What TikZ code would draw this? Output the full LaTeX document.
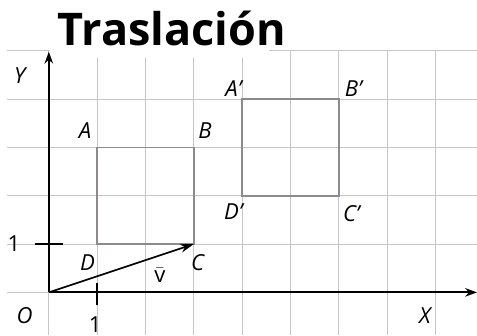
\documentclass[tikz,border=0pt]{standalone}
\usepackage{fontspec}
\setsansfont{Open Sans}
\usepackage{tikz}
\usetikzlibrary{arrows.meta, positioning, calc}
\definecolor{cuadro}{HTML}{8E8893}

\begin{document}
\begin{tikzpicture}[
        gridline/.style={gray!45, line width=0.4pt},
        axis/.style={black, line width=1.1pt, -{Stealth[length=7pt, width=5pt]}},
        lbl/.style={font=\sffamily\itshape\fontsize{13}{15}\selectfont, inner sep=0pt},
        num/.style={font=\sffamily\fontsize{13}{15}\selectfont, inner sep=0pt},
        cuadrado/.style={cuadro, line width=1pt}
    ]
        \useasboundingbox (-1.01,-0.89) rectangle (8.86,6.05);

        % Cuadricula
        \draw[gridline] (-0.87,-0.89) grid (8.86,5);
        \fill[white] (0.02,4.86) rectangle (4.55,6.05);

        % Titulo
        \node[font=\sffamily\bfseries\fontsize{26.5}{30}\selectfont, anchor=base west, inner sep=0pt] (titulo) at (0.18, 5.1) {Traslación};

        % Ejes
        \coordinate (O) at (0,0);
        \coordinate (ejeX) at (8.86,0);
        \coordinate (ejeY) at (0,4.98);
        \draw[axis] (O) -- (ejeX);
        \draw[axis] (O) -- (ejeY);
        \draw[line width=0.8pt] (-0.29,1) -- (0.29,1);
        \draw[line width=0.8pt] (1,0.2) -- (1,-0.26);

        \node[lbl] (lY) at (-0.6, 4.49) {Y};
        \node[lbl] (lX) at (7.78, -0.48) {X};
        \node[lbl] (lO) at (-0.5, -0.48) {O};
        \node[num] (unoY) at (-0.72, 1.01) {1};
        \node[num] (unoX) at (0.96, -0.66) {1};

        % Cuadrado ABCD
        \coordinate (A) at (1,3);
        \coordinate (B) at (3,3);
        \coordinate (C) at (3,1);
        \coordinate (D) at (1,1);
        \draw[cuadrado] (A) -- (B) -- (C) -- (D) -- cycle;
        \node[lbl] (lA) at (0.75, 3.35) {A};
        \node[lbl] (lB) at (3.23, 3.35) {B};
        \node[lbl] (lC) at (3.08, 0.62) {C};
        \node[lbl] (lD) at (0.8, 0.62) {D};

        % Cuadrado trasladado A'B'C'D'
        \coordinate (A2) at (4,4);
        \coordinate (B2) at (6,4);
        \coordinate (C2) at (6,2);
        \coordinate (D2) at (4,2);
        \draw[cuadrado] (A2) -- (B2) -- (C2) -- (D2) -- cycle;
        \node[lbl] (lA2) at (3.82, 4.22) {A'};
        \node[lbl] (lB2) at (6.3, 4.22) {B'};
        \node[lbl] (lC2) at (6.26, 1.64) {C'};
        \node[lbl] (lD2) at (3.82, 1.68) {D'};

        % Vector de traslacion
        \draw[black, line width=1pt, -{Stealth[length=8pt, width=5pt]}] (O) -- (C);
        \node[num] (lv) at (2.3, 0.35) {$\bar{\mbox{v}}$};
    \end{tikzpicture}
\end{document}
